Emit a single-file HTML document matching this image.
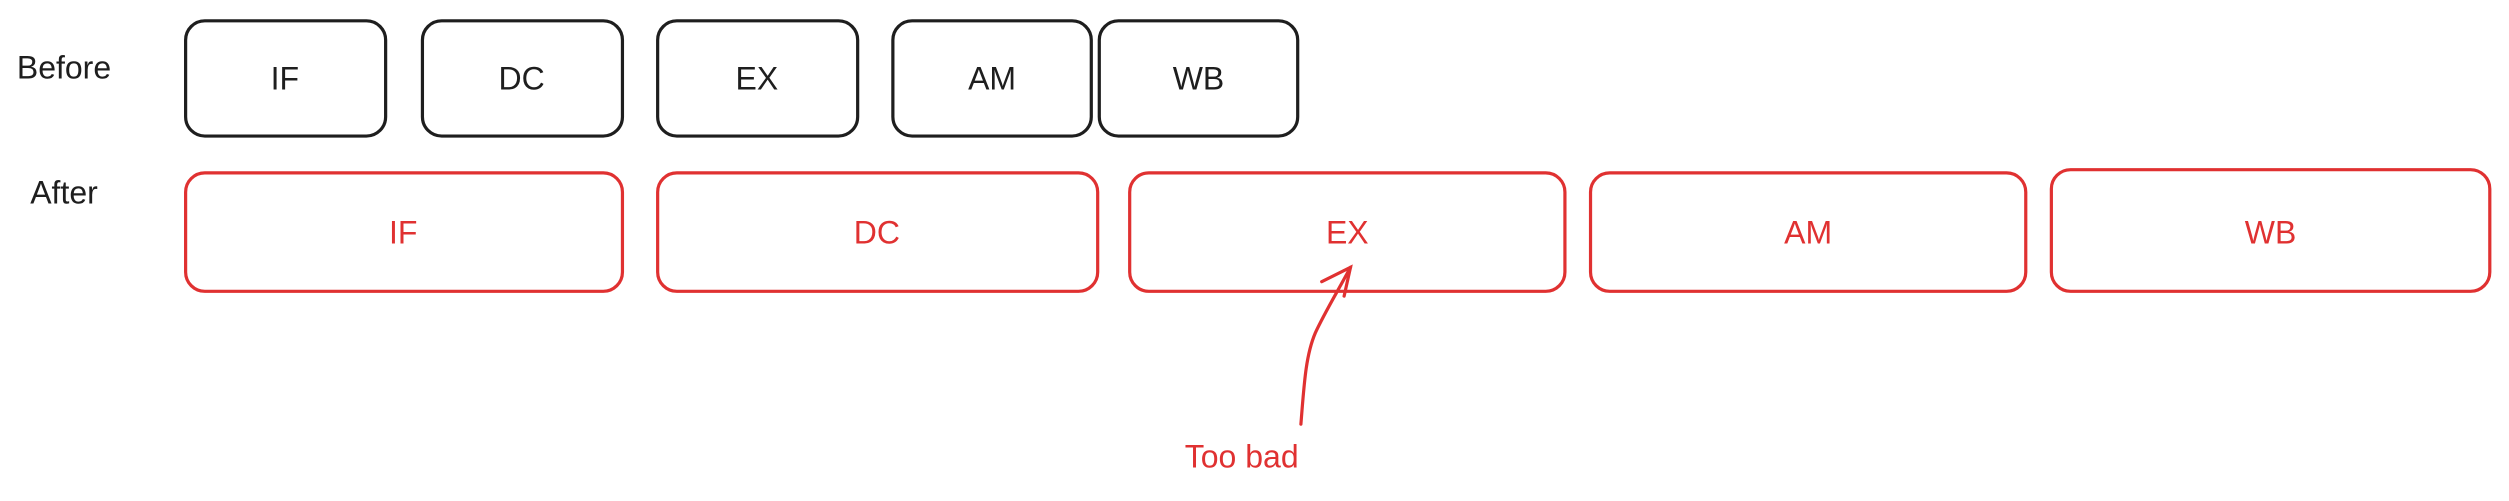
<!DOCTYPE html>
<html><head><meta charset="utf-8"><style>
html,body{margin:0;padding:0;background:#fff;width:2509px;height:501px;overflow:hidden}
svg{display:block}
text{font-family:"Liberation Sans",sans-serif;font-size:20px}
</style></head><body>
<svg width="2509" height="501" viewBox="0 0 1568 313" preserveAspectRatio="none">
<g fill="none" stroke-width="2" stroke-linecap="round">
<text x="40" y="49" fill="#1e1e1e" text-anchor="middle">Before</text>
<text x="40" y="127" fill="#1e1e1e" text-anchor="middle">After</text>

<g stroke="#1e1e1e">
<rect x="116" y="13" width="125" height="72" rx="12"/>
<rect x="264" y="13" width="125" height="72" rx="12"/>
<rect x="411" y="13" width="125" height="72" rx="12"/>
<rect x="558" y="13" width="124" height="72" rx="12"/>
<rect x="687" y="13" width="124" height="72" rx="12"/>
</g>
<g fill="#1e1e1e" stroke="none" text-anchor="middle">
<text x="178" y="56">IF</text>
<text x="326" y="56">DC</text>
<text x="473" y="56">EX</text>
<text x="620" y="56">AM</text>
<text x="749" y="56">WB</text>
</g>

<g stroke="#e03131">
<rect x="116" y="108" width="273" height="74" rx="12"/>
<rect x="411" y="108" width="275" height="74" rx="12"/>
<rect x="706" y="108" width="272" height="74" rx="12"/>
<rect x="994" y="108" width="272" height="74" rx="12"/>
<rect x="1282" y="106" width="274" height="76" rx="12"/>
</g>
<g fill="#e03131" stroke="none" text-anchor="middle">
<text x="252" y="152">IF</text>
<text x="548" y="152">DC</text>
<text x="842" y="152">EX</text>
<text x="1130" y="152">AM</text>
<text x="1419" y="152">WB</text>
</g>

<path d="M813 265 C815 240 816 222 822 208 C828 195 836 182 844 167" stroke="#e03131"/>
<path d="M826 176 L844 167 L840 185" stroke="#e03131"/>
<text x="776" y="292" fill="#e03131" stroke="none" text-anchor="middle">Too bad</text>
</g>
</svg>
</body></html>
